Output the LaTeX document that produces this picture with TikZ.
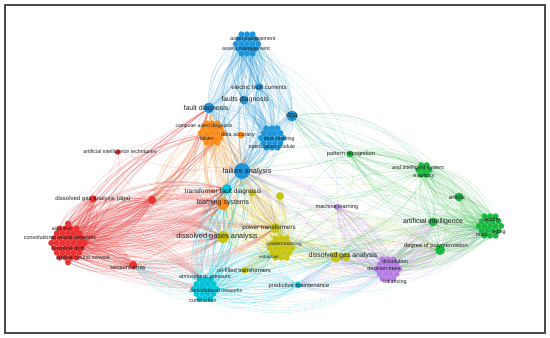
\documentclass[tikz,border=0pt]{standalone}
\usepackage{fontspec}
\setmainfont{Liberation Sans}
\pgfdeclarelayer{fg}
\pgfdeclarelayer{txt}
\pgfsetlayers{main,fg,txt}
\definecolor{vred}{RGB}{235,50,50}
\definecolor{vgreen}{RGB}{25,185,65}
\definecolor{vlgreen}{RGB}{60,195,80}
\definecolor{vblue}{RGB}{30,148,218}
\definecolor{vteal}{RGB}{60,190,200}
\definecolor{vyellow}{RGB}{200,196,20}
\definecolor{vpurple}{RGB}{182,125,228}
\definecolor{vcyan}{RGB}{0,196,218}
\definecolor{vorange}{RGB}{250,142,28}
\tikzset{
  vdot/.style={circle,inner sep=0pt,minimum size=6pt,fill=#1,draw=none},
  lnk/.style={draw=#1,draw opacity=0.27,line width=0.35pt},
  lab/.style={inner sep=0pt,text=black!88,font=\fontsize{#1}{#1}\selectfont},
}
\newcommand\vlinks[4]{%
  \foreach \i in {#3}{%
    \foreach \tg [count=\k] in {#4}{%
      \pgfmathsetmacro\bnd{(mod(\i+\k,4)-1.5)*20}%
      \draw[lnk=#1,bend left=\bnd] (#2\i) to (\tg);}}}
\newcommand\vhubs[2]{%
  \foreach \ua/\ub [count=\k] in {#2}{%
    \pgfmathsetmacro\bnd{(mod(\k,4)-1.5)*20}%
    \draw[lnk=#1,bend left=\bnd] (\ua) to (\ub);}}
\def\smallhex{-11.2/0,-5.6/0,0/0,5.6/0,11.2/0,%
-8.4/-4.85,-2.8/-4.85,2.8/-4.85,8.4/-4.85,%
-8.4/4.85,-2.8/4.85,2.8/4.85,8.4/4.85,%
-5.6/-9.7,0/-9.7,5.6/-9.7,-5.6/9.7,0/9.7,5.6/9.7}
\def\minihex{0/0,-5.6/0,5.6/0,-2.8/-4.85,2.8/-4.85,-2.8/4.85,2.8/4.85}
\def\redhex{-16.8/0,-11.2/0,-5.6/0,0/0,5.6/0,11.2/0,16.8/0,%
-14/-4.85,-8.4/-4.85,-2.8/-4.85,2.8/-4.85,8.4/-4.85,14/-4.85,%
-14/4.85,-8.4/4.85,-2.8/4.85,2.8/4.85,8.4/4.85,14/4.85,%
-11.2/-9.7,-5.6/-9.7,0/-9.7,5.6/-9.7,11.2/-9.7,%
-11.2/9.7,-5.6/9.7,0/9.7,5.6/9.7,11.2/9.7,%
-8.4/-14.55,-2.8/-14.55,2.8/-14.55,8.4/-14.55,%
-8.4/14.55,-2.8/14.55,2.8/14.55,8.4/14.55,%
0/-19.4,0/19.4}
\begin{document}
\begin{tikzpicture}[x=1pt,y=-1pt]
\useasboundingbox (0,0) rectangle (550,338);
\fill[white] (0,0) rectangle (550,338);
\draw[line width=1.3pt,black!70] (5,5) rectangle (545,333);

\begin{pgfonlayer}{fg}
% clusters
\begin{scope}[shift={(247,44)}]
 \foreach \dx/\dy [count=\i] in \smallhex \node[vdot=vblue] (ba\i) at (\dx,\dy) {};
\end{scope}
\begin{scope}[shift={(272,138)}]
 \foreach \dx/\dy [count=\i] in \smallhex \node[vdot=vblue] (bc\i) at (\dx,\dy) {};
\end{scope}
\begin{scope}[shift={(212,133)}]
 \foreach \dx/\dy [count=\i] in \smallhex \node[vdot=vorange] (oc\i) at (\dx,\dy) {};
\end{scope}
\begin{scope}[shift={(205,289)}]
 \foreach \dx/\dy [count=\i] in \smallhex \node[vdot=vcyan] (cc\i) at (\dx,\dy) {};
\end{scope}
\begin{scope}[shift={(281,248)}]
 \foreach \dx/\dy [count=\i] in \smallhex \node[vdot=vyellow] (yc\i) at (\dx,\dy) {};
\end{scope}
\begin{scope}[shift={(388,269)}]
 \foreach \dx/\dy [count=\i] in \smallhex \node[vdot=vpurple] (pc\i) at (\dx,\dy) {};
\end{scope}
\begin{scope}[shift={(490,226)}]
 \foreach \dx/\dy [count=\i] in \smallhex \node[vdot=vgreen] (gc\i) at (\dx,\dy) {};
\end{scope}
\begin{scope}[shift={(424,170)}]
 \foreach \dx/\dy [count=\i] in \minihex \node[vdot=vgreen] (ga\i) at (\dx,\dy) {};
\end{scope}
\begin{scope}[shift={(68,243)}]
 \foreach \dx/\dy [count=\i] in \redhex \node[vdot=vred] (rc\i) at (\dx,\dy) {};
\end{scope}
% hubs
\node[vdot=vblue,minimum size=16pt] (fa) at (242,171) {};
\node[vdot=vblue,minimum size=11pt] (fdg) at (209,108) {};
\node[vdot=vblue,minimum size=9pt] (fsd) at (244,100) {};
\node[vdot=vblue,minimum size=7.5pt] (efc) at (259,87) {};
\node[vdot=vblue,minimum size=11pt] (dga) at (292,116) {};
\node[vdot=vorange,minimum size=7pt] (dacc) at (241,135) {};
\node[vdot=vorange,minimum size=12pt] (ls) at (223,204) {};
\node[vdot=vcyan,minimum size=10pt] (tfd) at (227,189) {};
\node[vdot=vcyan,minimum size=6.5pt] (pm) at (298,285) {};
\node[vdot=vyellow,minimum size=7pt] (y1) at (252,193) {};
\node[vdot=vyellow,minimum size=8pt] (y2) at (280,196) {};
\node[vdot=vyellow,minimum size=10pt] (ptr) at (275,228) {};
\node[vdot=vyellow,minimum size=12pt] (dgsa) at (223,237) {};
\node[vdot=vyellow,minimum size=7pt] (oft) at (245,270) {};
\node[vdot=vyellow,minimum size=11pt] (dgas) at (336,257) {};
\node[vdot=vyellow,minimum size=8pt] (dgasb) at (346,257) {};
\node[vdot=vpurple,minimum size=6pt] (ml) at (337,207) {};
\node[vdot=vgreen,minimum size=7pt] (pr) at (350,154) {};
\node[vdot=vgreen,minimum size=9pt] (art) at (459,197) {};
\node[vdot=vgreen,minimum size=9pt] (ai) at (433,222) {};
\node[vdot=vgreen,minimum size=10pt] (dop) at (440,250) {};
\node[vdot=vred,minimum size=5.5pt] (ait) at (118,152) {};
\node[vdot=vred,minimum size=7.5pt] (dgad) at (93,199) {};
\node[vdot=vred,minimum size=8.5pt] (rn) at (152,200) {};
\node[vdot=vred,minimum size=8.5pt] (sa) at (133,265) {};
\end{pgfonlayer}

% connectors
\vlinks{vblue}{ba}{1,...,19}{fdg,fsd,efc,dga,fa,bc3,oc4}
\vlinks{vteal}{ba}{1,4,7,10,13,16,19}{pr,dga}
\vlinks{vblue}{bc}{1,...,19}{fdg,fsd,dga,fa,efc,tfd}
\vlinks{vorange}{oc}{1,...,19}{ls,fa,dgsa,rn,ptr,fdg}
\vlinks{vred}{rc}{1,...,39}{dgad,rn,sa,ls,dgsa,tfd}
\vlinks{vred}{rc}{1,3,...,39}{ptr,cc4,fdg,oc5}
\vlinks{vcyan}{cc}{1,...,19}{tfd,fa,pm,sa,dgas,pc9,yc10,ls}
\vlinks{vyellow}{yc}{1,...,19}{ptr,dgsa,dgas,ls,y1,y2,fa,oft,dop}
\vlinks{vpurple}{pc}{1,...,19}{ml,fa,dgas,dop,gc10,ai,pm}
\vlinks{vlgreen}{gc}{1,...,19}{art,ai,dop,ga4,pr,dgas,pc8}
\vlinks{vlgreen}{gc}{2,5,...,19}{dga,ptr}
\vlinks{vlgreen}{ga}{1,...,7}{pr,art,ai,dop,dga,fa,gc10,yc5}
\vhubs{vblue}{dga/pr,dga/art,dga/ga4,dga/ai,dga/gc10,dga/fa,dga/ml,fa/ml,fa/pr,fa/dgas,fa/yc10,fa/pm,fa/cc10,fa/dgsa,fa/ls,fa/ptr,fa/y1,fa/y2,fdg/ls,fdg/dgsa,fdg/tfd,fsd/fa,efc/fa}
\vhubs{vred}{ait/fdg,ait/dgad,ait/rc5,ait/rn,ait/fa,rn/fdg,rn/fa,dgad/fa,dgad/tfd,rn/ls,sa/cc5,sa/dgsa,sa/ls,sa/pm}
\vhubs{vorange}{ls/rn,ls/sa,ls/dgsa,ls/cc8,ls/ptr,dacc/fa,dacc/ls,dacc/ptr}
\vhubs{vcyan}{tfd/ls,tfd/fa,tfd/dgsa,tfd/rn,pm/pc9,pm/dgas,pm/yc12,pm/gc10,pm/dop}
\vhubs{vyellow}{dgsa/ls,dgsa/sa,dgsa/ptr,dgsa/dgas,dgsa/y1,dgas/dop,dgas/ai,dgas/gc10,dgas/pc9,dgas/ml,ptr/dop,ptr/ai,y2/ai,y1/art}
\vhubs{vpurple}{ml/fa,ml/y2,ml/dgas,ml/ai,ml/pc4}
\vhubs{vlgreen}{pr/dga,pr/fa,pr/art,pr/ai,pr/dop,pr/ga4,pr/ml,pr/yc5,art/ai,art/dop,art/dga,ai/dop,ai/dgas,ai/yc10,ai/fa,dop/dgsa,dop/yc9,dop/ptr,ai/ls}

\begin{pgfonlayer}{txt}
\node[lab=5.3] (t1) at (253,39) {asset management};
\node[lab=5.3] (t2) at (246,49) {assets management};
\node[lab=6] (t3) at (259,87) {electric fault currents};
\node[lab=6.8] (t4) at (245,100) {faults diagnosis};
\node[lab=7] (t5) at (206,109) {fault diagnosis};
\node[lab=7] (t6) at (292,116) {dga};
\node[lab=5] (t7) at (204,126) {computer aided diagnosis};
\node[lab=5.2] (t8) at (207,139) {bilstm};
\node[lab=5.4] (t9) at (238,135) {data accuracy};
\node[lab=5.2] (t10) at (279,139) {data cleaning};
\node[lab=5.2] (t11) at (272,147) {optimization module};
\node[lab=7.4] (t12) at (247,172) {failure analysis};
\node[lab=5.3] (t13) at (120,152) {artificial intelligence techniques};
\node[lab=6] (t14) at (93,199) {dissolved gas analysis (dga)};
\node[lab=4.9] (t15) at (62,229) {algorithm};
\node[lab=5.5] (t16) at (60,238) {convolutional neural networks};
\node[lab=5.5] (t17) at (68,249) {baseline drift};
\node[lab=5.3] (t18) at (83,258) {artificial neural network};
\node[lab=5.9] (t19) at (128,269) {sensors array};
\node[lab=6.5] (t20) at (223,192) {transformer fault diagnosis};
\node[lab=7] (t21) at (223,203) {learning systems};
\node[lab=6.2] (t22) at (269,228) {power transformers};
\node[lab=7.4] (t23) at (217,237) {dissolved gases analysis};
\node[lab=4.6] (t24) at (284,244) {gradient boosting};
\node[lab=4.4] (t25) at (269,257) {extraction};
\node[lab=5.8] (t26) at (244,270) {oil-filled transformers};
\node[lab=5.4] (t27) at (205,277) {atmospheric pressure};
\node[lab=5.2] (t28) at (216,291) {convolutional networks};
\node[lab=5.3] (t29) at (203,301) {combustion};
\node[lab=5.9] (t30) at (299,286) {predictive maintenance};
\node[lab=5.6] (t31) at (337,207) {machine learning};
\node[lab=6.9] (t32) at (343,256) {dissolved gas analysis};
\node[lab=5.5] (t33) at (395,262) {dissolution};
\node[lab=5.4] (t34) at (384,269) {decision trees};
\node[lab=5.4] (t35) at (395,282) {balancing};
\node[lab=5.8] (t36) at (351,154) {pattern recognition};
\node[lab=5.4] (t37) at (418,168) {and intelligent system};
\node[lab=5.5] (t38) at (424,176) {elasticity};
\node[lab=6] (t39) at (457,197) {article};
\node[lab=6.9] (t40) at (433,222) {artificial intelligence};
\node[lab=5.6] (t41) at (492,220) {acidity};
\node[lab=5.4] (t42) at (499,232) {aging};
\node[lab=5.4] (t43) at (482,235) {malo};
\node[lab=5.8] (t44) at (436,246) {degree of polymerization};
\end{pgfonlayer}
\end{tikzpicture}
\end{document}
